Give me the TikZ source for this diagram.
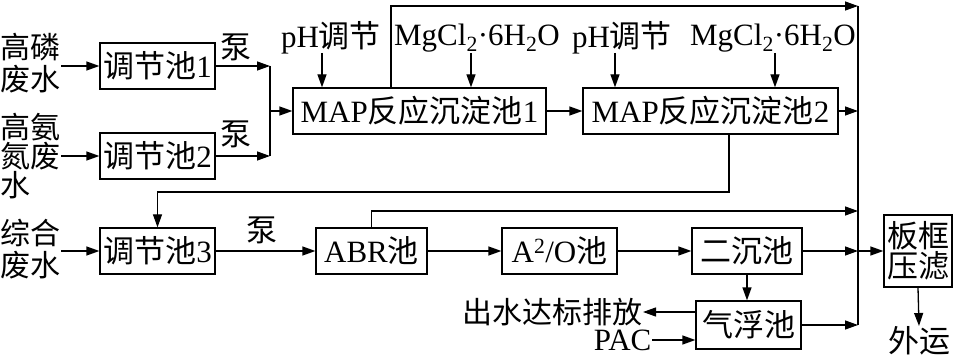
\documentclass[tikz,border=0pt]{standalone}
\usepackage{fontspec}
\setmainfont{Liberation Serif}
\newfontfamily\cjk{Noto Sans CJK SC}
\newcommand\zh[1]{{\cjk #1}}
\usetikzlibrary{arrows.meta}
\begin{document}
\begin{tikzpicture}[x=1pt,y=-1pt,
  every node/.style={font=\fontsize{31}{31}\selectfont, inner sep=0pt},
  box/.style={draw, line width=1.3pt, minimum height=46pt},
  arr/.style={-{Triangle[length=13pt,width=9pt]}},
  line width=1.3pt]
\useasboundingbox (0,0) rectangle (957,355);
% boxes
\node[box, minimum width=115pt] (t1) at (157.5,66) {\zh{调节池}1};
\node[box, minimum width=115pt] (t2) at (157.5,156) {\zh{调节池}2};
\node[box, minimum width=115pt] (t3) at (157.5,251) {\zh{调节池}3};
\node[box, minimum width=253pt] (m1) at (419.5,111) {MAP\zh{反应沉淀池}1};
\node[box, minimum width=255pt] (m2) at (710.5,111) {MAP\zh{反应沉淀池}2};
\node[box, minimum width=111pt] (abr) at (371.5,251) {ABR\zh{池}};
\node[box, minimum width=115pt] (a2o) at (559.5,251) {A\textsuperscript{2}/O\zh{池}};
\node[box, minimum width=110pt] (ec) at (747,251) {\zh{二沉池}};
\node[box, minimum width=105pt, minimum height=48pt] (qf) at (748.5,325) {\zh{气浮池}};
\node[box, minimum width=68pt, minimum height=72pt, align=center,
      font=\fontsize{31}{30}\selectfont] (bk) at (918,251) {\zh{板框}\\\zh{压滤}};
% side labels
\node[align=left, anchor=west, font=\fontsize{30}{32}\selectfont] (in1) at (0,63) {\zh{高磷}\\\zh{废水}};
\node[align=left, anchor=west, font=\fontsize{30}{29}\selectfont] (in2) at (0,156) {\zh{高氨}\\\zh{氮废}\\\zh{水}};
\node[align=left, anchor=west, font=\fontsize{30}{32}\selectfont] (in3) at (0,249) {\zh{综合}\\\zh{废水}};
\node (b1) at (236,47) {\zh{泵}};
\node (b2) at (236,134) {\zh{泵}};
\node (b3) at (262,230) {\zh{泵}};
\node (ph1) at (331,38) {pH\zh{调节}};
\node (mg1) at (477,38) {MgCl\textsubscript{2}·6H\textsubscript{2}O};
\node (ph2) at (622,38) {pH\zh{调节}};
\node (mg2) at (773,38) {MgCl\textsubscript{2}·6H\textsubscript{2}O};
\node[anchor=east, font=\fontsize{30}{30}\selectfont] (out) at (643,312) {\zh{出水达标排放}};
\node[anchor=east] (pac) at (652,340) {PAC};
\node (ww) at (919,341) {\zh{外运}};
% helper coordinates
\coordinate (j) at (270,111);
\coordinate (cx) at (858,6);
\coordinate (cb) at (858,325);
\coordinate (ry) at (0,192);
\coordinate (ay) at (0,211);
\coordinate (ly) at (0,53);
% connectors
\draw[arr] (in1.east |- t1.west) -- (t1.west);
\draw[arr] (in2.east |- t2.west) -- (t2.west);
\draw[arr] (in3.east |- t3.west) -- (t3.west);
\draw[arr] (t1.east) -- (t1.east -| j);
\draw[arr] (t2.east) -- (t2.east -| j);
\draw (t1.east -| j) -- (t2.east -| j);
\draw[arr] (j) -- (m1.west);
\draw[arr] ([xshift=-9pt]ph1.south |- ly) -- ([xshift=-9pt]ph1.south |- m1.north);
\draw[arr] ([xshift=-6pt]mg1.south |- ly) -- ([xshift=-6pt]mg1.south |- m1.north);
\draw[arr] ([xshift=-7pt]ph2.south |- ly) -- ([xshift=-7pt]ph2.south |- m2.north);
\draw[arr] ([xshift=2pt]mg2.south |- ly) -- ([xshift=2pt]mg2.south |- m2.north);
\draw[arr] (m1.east) -- (m2.west);
\draw[arr] (m2.east) -- (m2.east -| cx);
\draw[arr] ([xshift=-28.5pt]m1.north) |- (cx);
\draw (cx) -- (cb);
\draw[arr] ([xshift=18.5pt]m2.south) |- (t3.north |- ry) -- (t3.north);
\draw[arr] (t3.east) -- (abr.west);
\draw[arr] (abr.north) |- (cx |- ay);
\draw[arr] (abr.east) -- (a2o.west);
\draw[arr] (a2o.east) -- (ec.west);
\draw[arr] (ec.east) -- (ec.east -| cx);
\draw[arr] (ec.east -| cx) -- (bk.west);
\draw[arr] (ec.south) -- (ec.south |- qf.north);
\draw[arr] (qf.west |- out.east) -- (out.east);
\draw[arr] (pac.east) -- (pac.east -| qf.west);
\draw[arr] (qf.east) -- (qf.east -| cx);
\draw[arr] (bk.south) -- (ww.north);
\end{tikzpicture}
\end{document}
